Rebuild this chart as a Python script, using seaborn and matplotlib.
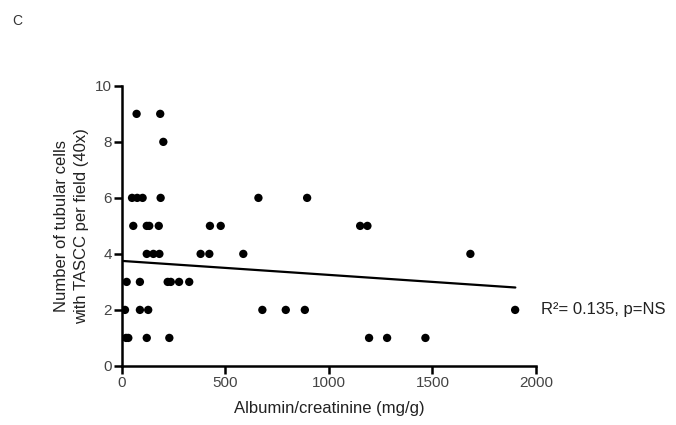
import matplotlib
matplotlib.use("Agg")
import matplotlib.pyplot as plt
import seaborn as sns
import pandas as pd

# Data
albumin_creatinine = [
    72, 186,
    201,
    50, 75, 101, 188, 660, 895,
    56, 121, 133, 179, 426, 478, 1151, 1186,
    121, 153, 182, 381, 423, 587, 1683,
    24, 88, 222, 237, 277, 326,
    16, 88, 128, 679, 792, 884, 1899,
    21, 32, 121, 230, 1194, 1281, 1466,
]
tascc_cells = (
    [9] * 2 + [8] * 1 + [6] * 6 + [5] * 8 + [4] * 7 + [3] * 6 + [2] * 7 + [1] * 7
)
fit_x = [0, 1900]
fit_y = [3.75, 2.80]
x_ticks = [0, 500, 1000, 1500, 2000]
y_ticks = [0, 2, 4, 6, 8, 10]

df = pd.DataFrame({"x": albumin_creatinine, "y": tascc_cells})
fit = pd.DataFrame({"x": fit_x, "y": fit_y})

sns.set_style("ticks")
plt.rcParams["font.family"] = ["Liberation Sans", "DejaVu Sans"]

fig = plt.figure(figsize=(6.76, 4.25), dpi=100)
ax = fig.add_axes([0.180, 0.139, 0.613, 0.659])

sns.scatterplot(data=df, x="x", y="y", ax=ax, color="black", s=36,
                edgecolor="none", zorder=3, legend=False)
sns.lineplot(data=fit, x="x", y="y", ax=ax, color="black", linewidth=1.6,
             zorder=2, legend=False)

ax.set_xlim(0, 2000)
ax.set_ylim(0, 10)
ax.set_xticks(x_ticks)
ax.set_yticks(y_ticks)
ax.set_xticklabels([str(t) for t in x_ticks])
ax.set_yticklabels([str(t) for t in y_ticks])
sns.despine(ax=ax)
for s in ("left", "bottom"):
    ax.spines[s].set_linewidth(1.8)
    ax.spines[s].set_color("black")
ax.tick_params(axis="both", direction="out", length=6, width=1.8,
               color="black", labelsize=11, labelcolor="#444444", pad=1)

ax.set_xlabel("Albumin/creatinine (mg/g)", fontsize=12, color="#222222", labelpad=8)
ax.set_ylabel("Number of tubular cells\nwith TASCC per field (40x)", fontsize=12,
              color="#222222", labelpad=4, linespacing=1.45)

ax.text(1.012, 2.0, "R²= 0.135, p=NS", transform=ax.get_yaxis_transform(),
        fontsize=12, color="#222222", va="center", ha="left")
fig.text(0.018, 0.951, "C", fontsize=10, color="#333333", va="center", ha="left")

fig.savefig("out.png", dpi=100, facecolor="white")
